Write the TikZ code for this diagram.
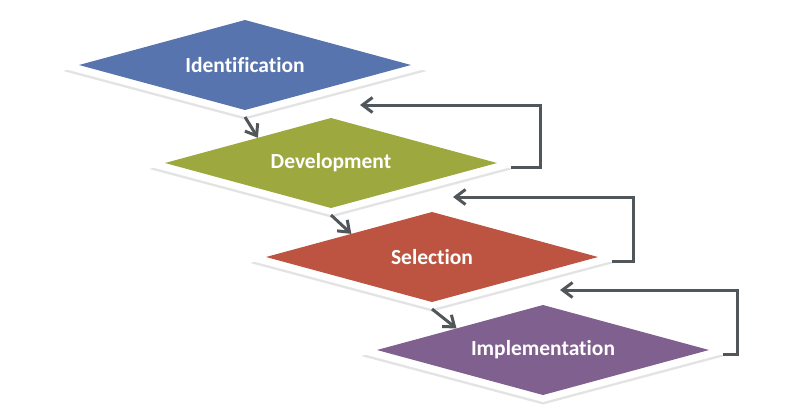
\documentclass[tikz,border=0pt]{standalone}
\usepackage{fontspec}
\setmainfont{Carlito}[Ligatures=NoCommon]
\usetikzlibrary{shapes.geometric,arrows.meta,shadows}
\definecolor{idblue}{HTML}{5874AE}
\definecolor{dvgreen}{HTML}{9DA83E}
\definecolor{slred}{HTML}{BD5442}
\definecolor{impurple}{HTML}{80608E}
\definecolor{flowgray}{HTML}{505659}
\begin{document}
\begin{tikzpicture}[x=1pt,y=1pt]
\tikzstyle{every node}+=[inner sep=0pt,outer sep=0pt]
\tikzstyle{bevel}=[diamond,aspect=3.7,minimum width=360pt,minimum height=96pt,fill=white,drop shadow={opacity=0.22,shadow xshift=0pt,shadow yshift=-2pt,shadow scale=1.01}]
\tikzstyle{stage}=[diamond,aspect=3.7,minimum width=332pt,minimum height=90pt,text=white,font=\fontsize{21.5}{25}\selectfont\bfseries]
\tikzstyle{flow}=[draw=flowgray,line width=3pt,-{Straight Barb[length=10pt,width=15pt]}]
\useasboundingbox (0,0) rectangle (786,-407);
\node [bevel] (idb) at (245,-69) {};
\node [stage,fill=idblue] (id) at (245,-65) {Identification};
\node [bevel] (dvb) at (331,-167) {};
\node [stage,fill=dvgreen] (dv) at (331,-163) {Development};
\node [bevel] (slb) at (432,-261) {};
\node [stage,fill=slred] (sl) at (432,-257) {Selection};
\node [bevel] (imb) at (543,-354) {};
\node [stage,fill=impurple] (im) at (543,-350) {Implementation};
\coordinate (dvin) at (360,-105);
\coordinate (slin) at (453,-197);
\coordinate (imin) at (560,-290);
\draw [flow] (idb.south) -- (dv.161);
\draw [flow] (dvb.south) -- (sl.164);
\draw [flow] (slb.south) -- (im.166);
\draw [flow] (dvb.east) -- ++(29,0) |- (dvin);
\draw [flow] (slb.east) -- ++(21,0) |- (slin);
\draw [flow] (imb.east) -- ++(14,0) |- (imin);
\end{tikzpicture}
\end{document}
